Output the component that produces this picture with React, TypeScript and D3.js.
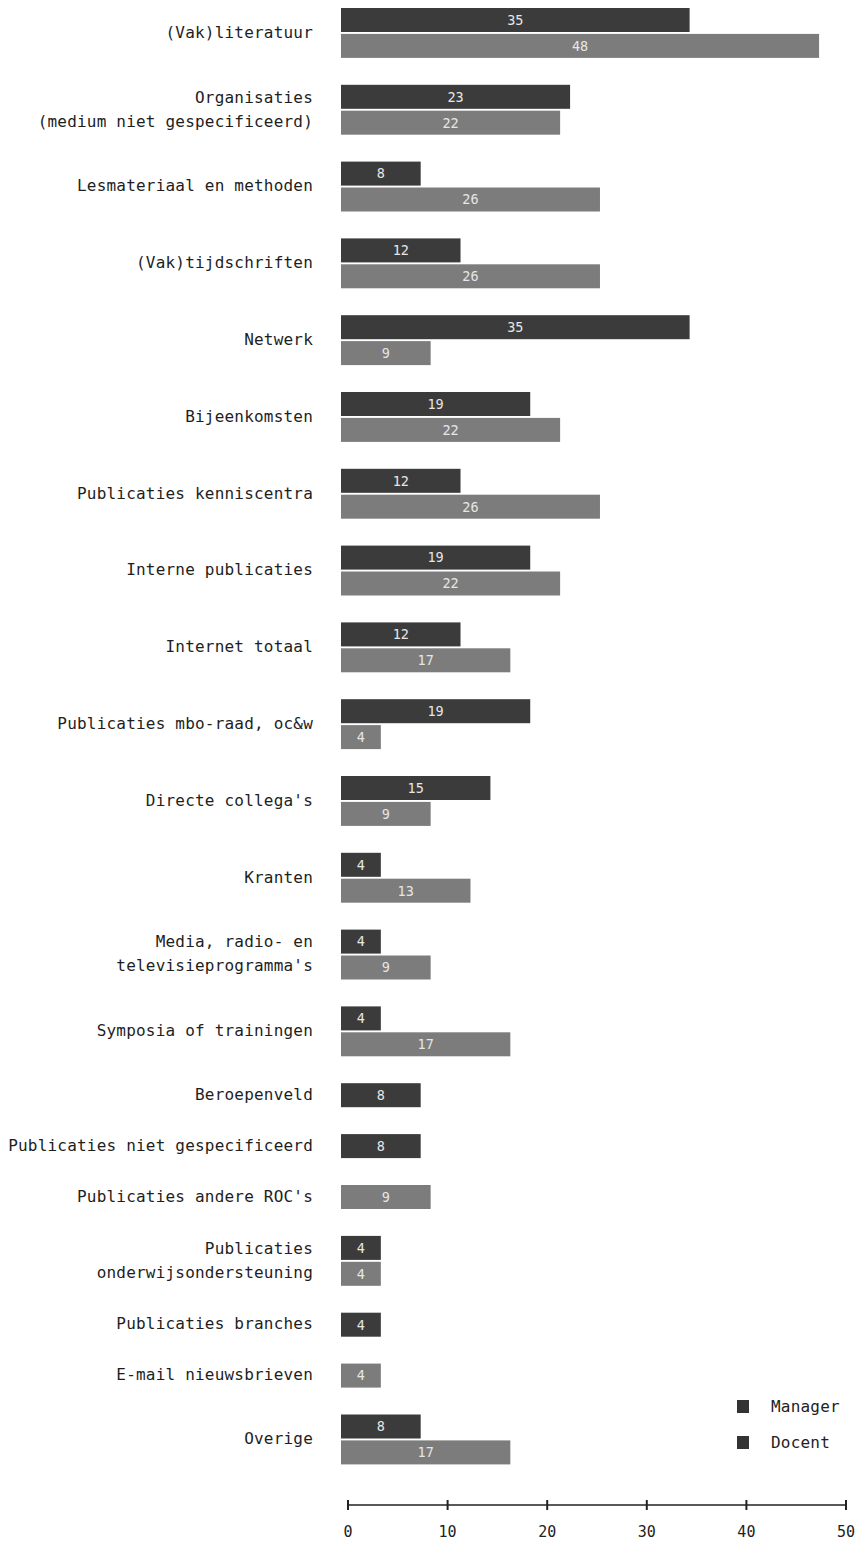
import React from "react";
import * as d3 from "d3";

const categories: string[][] = [
  ["(Vak)literatuur"],
  ["Organisaties", "(medium niet gespecificeerd)"],
  ["Lesmateriaal en methoden"],
  ["(Vak)tijdschriften"],
  ["Netwerk"],
  ["Bijeenkomsten"],
  ["Publicaties kenniscentra"],
  ["Interne publicaties"],
  ["Internet totaal"],
  ["Publicaties mbo-raad, oc&w"],
  ["Directe collega's"],
  ["Kranten"],
  ["Media, radio- en", "televisieprogramma's"],
  ["Symposia of trainingen"],
  ["Beroepenveld"],
  ["Publicaties niet gespecificeerd"],
  ["Publicaties andere ROC's"],
  ["Publicaties", "onderwijsondersteuning"],
  ["Publicaties branches"],
  ["E-mail nieuwsbrieven"],
  ["Overige"],
];

const manager: (number | null)[] = [35, 23, 8, 12, 35, 19, 12, 19, 12, 19, 15, 4, 4, 4, 8, 8, null, 4, 4, null, 8];
const docent: (number | null)[] = [48, 22, 26, 26, 9, 22, 26, 22, 17, 4, 9, 13, 9, 17, null, null, 9, 4, null, 4, 17];

const seriesNames = ["Manager", "Docent"];
const xTicks = [0, 10, 20, 30, 40, 50];

const W = 859;
const H = 1541;
const FONT = "'DejaVu Sans Mono', monospace";
const colors = ["#3b3b3b", "#7c7c7c"];

export default function App() {
  const x = d3.scaleLinear().domain([0, 50]).range([341, 839]);
  // layout in "row units": each bar = 1 unit, gap between groups = gapU units
  const barStep = 25.9;
  const gapU = 25 / barStep;
  type Row = { cat: number; series: number; value: number; u: number };
  const rows: Row[] = [];
  const groups: { cat: number; u0: number; u1: number }[] = [];
  let u = 0;
  categories.forEach((_, i) => {
    const u0 = u;
    [manager[i], docent[i]].forEach((v, s) => {
      if (v != null) {
        rows.push({ cat: i, series: s, value: v, u });
        u += 1;
      }
    });
    groups.push({ cat: i, u0, u1: u });
    u += gapU;
  });
  const y = d3.scaleLinear().domain([0, 1]).range([8, 8 + barStep]);
  const barH = 24;
  const axisY = 1505;
  const axisShift = 7;

  return (
    <svg
      width={W}
      height={H}
      style={{ position: "absolute", left: 0, top: 0, background: "#fff" }}
      fontFamily={FONT}
    >
      <rect width={W} height={H} fill="#fff" />
      {rows.map((r, i) => (
        <g key={i}>
          <rect
            x={x(0)}
            y={y(r.u)}
            width={x(r.value) - x(0)}
            height={barH}
            fill={colors[r.series]}
          />
          <text
            x={(x(0) + x(r.value)) / 2}
            y={y(r.u) + barH / 2}
            dy="0.36em"
            textAnchor="middle"
            fontSize={13.5}
            fill="#e6e6e6"
          >
            {r.value}
          </text>
        </g>
      ))}
      {groups.map((g) => {
        const lines = categories[g.cat];
        const cy = (y(g.u0) + y(g.u1) - (barStep - barH)) / 2 - 1;
        const lh = 24;
        return (
          <text
            key={g.cat}
            x={313}
            textAnchor="end"
            fontSize={16}
            fill="#1e1e1e"
            letterSpacing={0.2}
          >
            {lines.map((l, j) => (
              <tspan key={j} x={313} y={cy + (j - (lines.length - 1) / 2) * lh} dy="0.36em">
                {l}
              </tspan>
            ))}
          </text>
        );
      })}
      <g transform={`translate(${axisShift},0)`}>
        <line x1={x(0)} x2={x(50)} y1={axisY} y2={axisY} stroke="#222" strokeWidth={1.5} />
        {xTicks.map((t) => (
          <g key={t}>
            <line x1={x(t)} x2={x(t)} y1={axisY - 5} y2={axisY + 5} stroke="#222" strokeWidth={2} />
            <text x={x(t)} y={1537} textAnchor="middle" fontSize={15} fill="#222">
              {t}
            </text>
          </g>
        ))}
      </g>
      {seriesNames.map((s, i) => (
        <g key={s}>
          <rect x={737} y={1400 + i * 36} width={12} height={13} fill="#333" />
          <text x={771} y={1406.5 + i * 36} dy="0.36em" fontSize={16} fill="#222" letterSpacing={0.2}>
            {s}
          </text>
        </g>
      ))}
    </svg>
  );
}
